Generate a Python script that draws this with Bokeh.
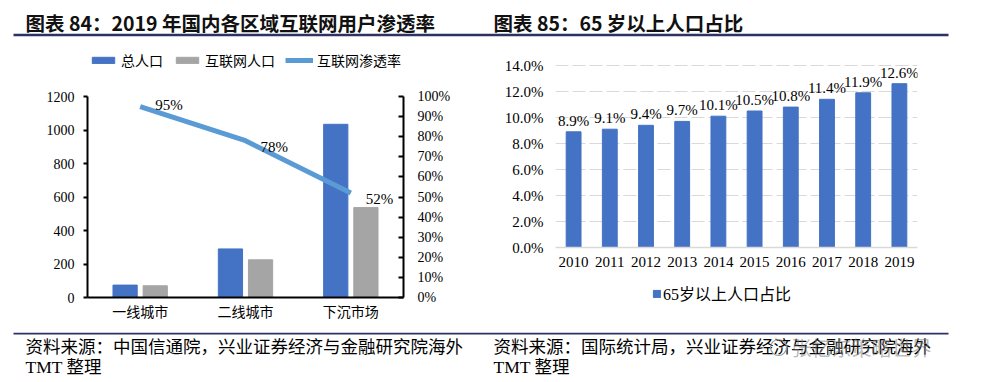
from bokeh.plotting import figure
from bokeh.models import (Range1d, FactorRange, LinearAxis, FixedTicker, NumeralTickFormatter,
                          PrintfTickFormatter, Legend, LegendItem, ColumnDataSource)
from bokeh.transform import dodge
from bokeh.layouts import column, row
from bokeh.embed import file_html
from bokeh.resources import INLINE
from bokeh.core.properties import value

# ---------------- data ----------------
regions = ["一线城市", "二线城市", "下沉市场"]
total_pop = [74, 290, 1034]
internet_pop = [70, 225, 537]
penetration = [0.95, 0.78, 0.52]
pop_ticks = [0, 200, 400, 600, 800, 1000, 1200]
pct_ticks = [0.0, 0.1, 0.2, 0.3, 0.4, 0.5, 0.6, 0.7, 0.8, 0.9, 1.0]

years = ["2010", "2011", "2012", "2013", "2014", "2015", "2016", "2017", "2018", "2019"]
aged_share = [8.9, 9.1, 9.4, 9.7, 10.1, 10.5, 10.8, 11.4, 11.9, 12.6]
share_ticks = [0, 2, 4, 6, 8, 10, 12, 14]

title_left = "图表 84：2019 年国内各区域互联网用户渗透率"
title_right = "图表 85：65 岁以上人口占比"
source_left = ["资料来源：中国信通院，兴业证券经济与金融研究院海外", "TMT 整理"]
source_right = ["资料来源：国际统计局，兴业证券经济与金融研究院海外", "TMT 整理"]
watermark = "张忆东策略世界"

# ---------------- styles ----------------
SERIF = "Liberation Serif"
CJK = "Noto Sans CJK SC"
MIX = "Liberation Serif, Noto Sans CJK SC"
NAVY = "#2E3163"
BLUE = "#4472C4"
GRAY = "#A5A5A5"
LBLUE = "#5B9BD5"
pen_label_dy = [-2, 6, 6]
CH_H = 287          # height of the two chart figures
CH_TOP = 4          # top border of both charts


def deco_fig(w, h):
    f = figure(width=w, height=h, x_range=Range1d(0, w), y_range=Range1d(h, 0),
               toolbar_location=None, output_backend="svg", min_border=0,
               x_axis_location=None, y_axis_location=None)
    f.grid.visible = False
    f.outline_line_color = None
    return f


# ---------------- top titles ----------------
top = deco_fig(990, 45)
top.text(x=[25, 493], y=[21.5, 21.5], text=[title_left, title_right], text_font=value(CJK),
         text_font_size="19.5px", text_font_style="bold", text_baseline="middle",
         text_color="#111111")
top.segment(x0=13, y0=34.5, x1=948, y1=34.5, line_width=2.5, line_color=NAVY)

# ---------------- left chart ----------------
L_BOT = 35
l_frame_h = CH_H - CH_TOP - L_BOT
pl = figure(width=490, height=CH_H, x_range=FactorRange(*regions),
            y_range=Range1d(0, 1200 * l_frame_h / 201.0),
            toolbar_location=None, output_backend="svg",
            min_border_left=87, min_border_right=87, min_border_top=CH_TOP, min_border_bottom=L_BOT)
pl.extra_y_ranges = {"pct": Range1d(0, l_frame_h / 201.0)}
pl.outline_line_color = None
pl.grid.visible = False

src = ColumnDataSource(dict(region=regions, total=total_pop, net=internet_pop, pen=penetration,
                            lab=["%d%%" % round(v * 100) for v in penetration], dy=pen_label_dy))
b1 = pl.vbar(x=dodge("region", -0.143, range=pl.x_range), top="total", width=0.23, source=src,
             fill_color=BLUE, line_color=BLUE)
b2 = pl.vbar(x=dodge("region", 0.143, range=pl.x_range), top="net", width=0.23, source=src,
             fill_color=GRAY, line_color=GRAY)
ln = pl.line(x="region", y="pen", y_range_name="pct", source=src, line_width=5, line_color=LBLUE)
pl.text(x="region", y="pen", text="lab", y_range_name="pct", source=src, x_offset=15,
        y_offset="dy", text_font=value(SERIF), text_font_size="15px", text_baseline="alphabetic",
        text_align="left", text_color="#000000")

ax_r = LinearAxis(y_range_name="pct", ticker=FixedTicker(ticks=pct_ticks),
                  formatter=NumeralTickFormatter(format="0%"), bounds=(0, 1))
pl.add_layout(ax_r, "right")

yl = pl.yaxis[0]
yl.ticker = FixedTicker(ticks=pop_ticks)
yl.bounds = (0, 1200)
for ax in (yl, ax_r):
    ax.axis_line_width = 2
    ax.axis_line_color = "#000000"
    ax.major_tick_line_width = 2
    ax.major_tick_line_color = "#000000"
    ax.minor_tick_line_color = None
    ax.minor_tick_out = 0
    ax.minor_tick_in = 0
    ax.major_label_text_font = SERIF
    ax.major_label_text_font_size = "14px"
    ax.major_label_text_color = "#000000"
yl.major_tick_out = 4
yl.major_tick_in = 0
yl.major_label_standoff = 9
ax_r.major_tick_out = 0
ax_r.major_tick_in = 5
ax_r.major_label_standoff = 14

xl = pl.xaxis[0]
xl.axis_line_width = 2
xl.axis_line_color = "#000000"
xl.major_tick_line_color = None
xl.major_tick_out = 0
xl.major_tick_in = 0
xl.minor_tick_line_color = None
xl.major_label_text_font = CJK
xl.major_label_text_font_size = "14px"
xl.major_label_text_color = "#000000"
xl.major_label_standoff = 3

leg_l = Legend(items=[LegendItem(label="总人口", renderers=[b1]),
                      LegendItem(label="互联网人口", renderers=[b2]),
                      LegendItem(label="互联网渗透率", renderers=[ln])],
               location=(2, 227), orientation="horizontal",
               label_text_font=CJK, label_text_font_size="14px", label_text_color="#000000",
               glyph_width=28, glyph_height=8, label_standoff=4, spacing=10,
               padding=0, margin=0, border_line_color=None, background_fill_alpha=0)
pl.add_layout(leg_l, "center")

# ---------------- right chart ----------------
R_BOT = 27
r_scale = 182 / 14.0                       # px per percentage point
r_zero = 247 - 45 - CH_TOP                 # distance from frame top to the 0 line
r_frame_h = CH_H - CH_TOP - R_BOT
pr = figure(width=500, height=CH_H, x_range=FactorRange(*years),
            y_range=Range1d(-(r_frame_h - r_zero) / r_scale, r_zero / r_scale),
            toolbar_location=None, output_backend="svg",
            min_border_left=65, min_border_right=73, min_border_top=CH_TOP, min_border_bottom=R_BOT)
pr.outline_line_color = None
pr.xgrid.visible = False
src2 = ColumnDataSource(dict(year=years, share=aged_share, lab=["%.1f%%" % v for v in aged_share]))
br = pr.vbar(x="year", top="share", width=0.41, source=src2, fill_color=BLUE, line_color=BLUE)
pr.text(x="year", y="share", text="lab", source=src2, y_offset=-11, text_align="center",
        text_baseline="alphabetic", text_font=value(SERIF), text_font_size="15px",
        text_color="#000000")

pr.ygrid.ticker = FixedTicker(ticks=share_ticks)
pr.ygrid.grid_line_color = "#D9D9D9"
pr.ygrid.grid_line_dash = "13 4"
pr.ygrid.grid_line_width = 1

ya = pr.yaxis[0]
ya.ticker = FixedTicker(ticks=share_ticks)
ya.formatter = PrintfTickFormatter(format="%.1f%%")
ya.axis_line_color = None
ya.major_tick_line_color = None
ya.major_tick_out = 0
ya.minor_tick_line_color = None
ya.minor_tick_out = 0
ya.major_label_text_font = SERIF
ya.major_label_text_font_size = "15px"
ya.major_label_text_color = "#000000"
ya.major_label_standoff = 12

xa = pr.xaxis[0]
xa.fixed_location = 0
xa.axis_line_color = "#D9D9D9"
xa.axis_line_width = 1.5
xa.major_tick_line_color = None
xa.major_tick_out = 0
xa.major_tick_in = 0
xa.minor_tick_line_color = None
xa.major_label_text_font = SERIF
xa.major_label_text_font_size = "15px"
xa.major_label_text_color = "#000000"
xa.major_label_standoff = 9

leg_r = Legend(items=[LegendItem(label="65岁以上人口占比", renderers=[br])],
               location=(97, 0), orientation="horizontal",
               label_text_font=MIX, label_text_font_size="16px", label_text_color="#000000",
               glyph_width=9, glyph_height=9, label_standoff=2,
               padding=0, margin=0, border_line_color=None, background_fill_alpha=0)
pr.add_layout(leg_r, "center")

# ---------------- bottom sources ----------------
bot = deco_fig(990, 382 - 45 - CH_H)
bot.segment(x0=13, y0=1, x1=948, y1=1, line_width=2, line_color=NAVY)
bot.text(x=[25, 493], y=[13, 13], text=[source_left[0], source_right[0]], text_font=value(CJK),
         text_font_size="17.5px", text_baseline="middle", text_color="#000000")
bot.text(x=[25, 493], y=[34, 34], text=[source_left[1], source_right[1]], text_font=value(MIX),
         text_font_size="17.5px", text_baseline="middle", text_color="#000000")
bot.circle(x=[778], y=[15], radius=8, fill_color=None, line_color="#9A9A9A", line_width=1.2)
bot.text(x=[791], y=[15], text=[watermark], text_font=value(CJK), text_font_size="20px",
         text_baseline="middle", text_color="#7F7F7F", text_alpha=0.55)

layout = column(top, row(column(pl), column(pr)), bot)
open("out.html", "w").write(file_html(layout, INLINE))
